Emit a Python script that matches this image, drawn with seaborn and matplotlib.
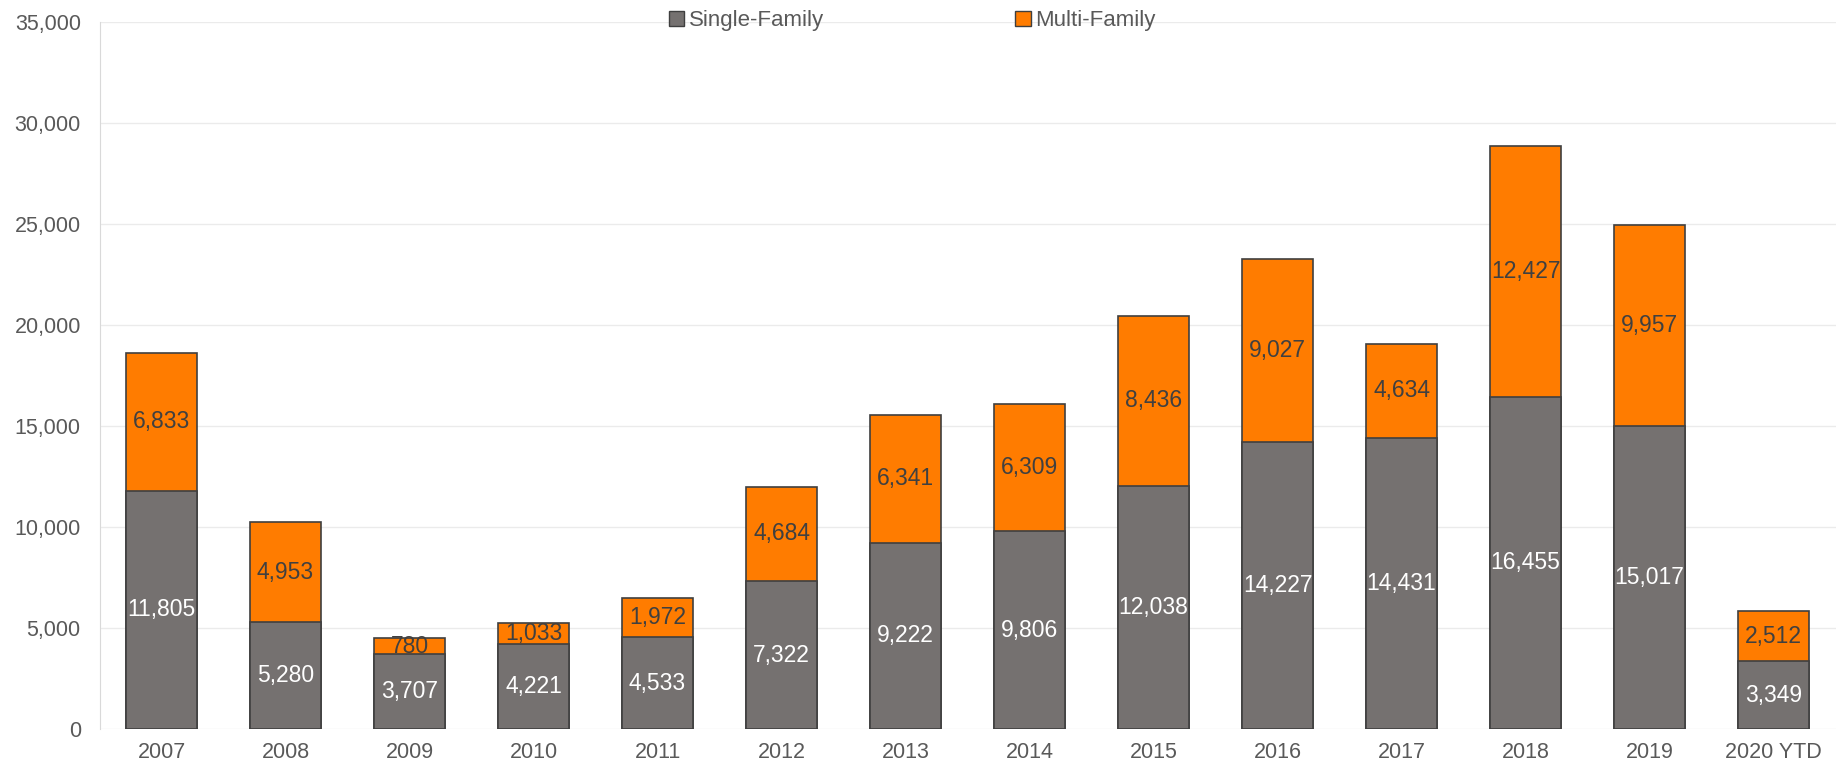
import pandas as pd
import matplotlib.pyplot as plt
import matplotlib.patches as mpatches
import seaborn as sns

# Data
years = ["2007", "2008", "2009", "2010", "2011", "2012", "2013",
         "2014", "2015", "2016", "2017", "2018", "2019", "2020 YTD"]
single_family = [11805, 5280, 3707, 4221, 4533, 7322, 9222,
                 9806, 12038, 14227, 14431, 16455, 15017, 3349]
multi_family = [6833, 4953, 780, 1033, 1972, 4684, 6341,
                6309, 8436, 9027, 4634, 12427, 9957, 2512]

df = pd.DataFrame({"Year": years, "Single": single_family, "Multi": multi_family})
df["Total"] = df["Single"] + df["Multi"]

grey = "#757170"
orange = "#FF7C00"
edge = "#3F3F3F"
text_col = "#595959"

sns.set_style("white")
plt.rcParams["font.family"] = ["Liberation Sans", "DejaVu Sans"]

fig = plt.figure(figsize=(18.43, 7.67), dpi=100)
ax = fig.add_axes([0.054, 0.0495, 0.942, 0.9215])

# Stacked bars: total in orange, single-family drawn over it
sns.barplot(x="Year", y="Total", data=df, color=orange, width=0.57,
            edgecolor=edge, linewidth=1.2, saturation=1, ax=ax, zorder=2)
sns.barplot(x="Year", y="Single", data=df, color=grey, width=0.57,
            edgecolor=edge, linewidth=1.2, saturation=1, ax=ax, zorder=3)

# Data labels
for i, row in df.iterrows():
    ax.text(i, row["Single"] / 2, f"{row['Single']:,}", ha="center", va="center",
            color="white", fontsize=16.5, zorder=4)
    ax.text(i, row["Single"] + row["Multi"] / 2, f"{row['Multi']:,}", ha="center",
            va="center", color="#404040", fontsize=16.5, zorder=4)

ax.set_xlim(-0.5, 13.5)
ax.set_ylim(0, 35000)
ax.set_yticks(range(0, 35001, 5000))
ax.yaxis.set_major_formatter(plt.FuncFormatter(lambda v, p: f"{int(v):,}"))
ax.grid(axis="y", color="#EBEBEB", linewidth=1, zorder=0)
ax.set_axisbelow(True)
ax.set_xlabel("")
ax.set_ylabel("")
ax.tick_params(axis="both", length=0, labelsize=15.5, labelcolor=text_col)
ax.tick_params(axis="y", pad=13.5)
ax.tick_params(axis="x", pad=9)

for side in ["top", "right", "bottom"]:
    ax.spines[side].set_visible(False)
ax.spines["left"].set_color("#D9D9D9")

handles = [mpatches.Patch(facecolor=grey, edgecolor=edge, label="Single-Family"),
           mpatches.Patch(facecolor=orange, edgecolor=edge, label="Multi-Family")]
leg = ax.legend(handles=handles, loc="upper center", bbox_to_anchor=(0.468, 1.045),
                ncol=2, frameon=False, fontsize=16, handlelength=0.7,
                handleheight=0.7, handletextpad=0.2, columnspacing=8.6)
for t in leg.get_texts():
    t.set_color(text_col)

plt.savefig("out.png", dpi=100)
